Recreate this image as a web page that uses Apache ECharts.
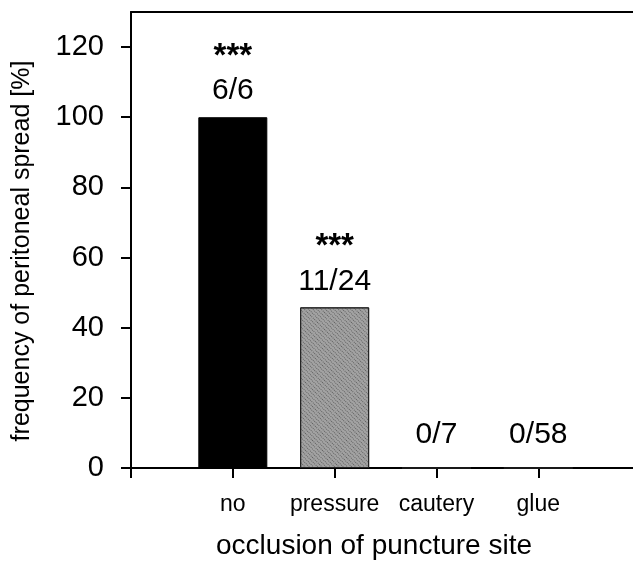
<!DOCTYPE html>
<html>
<head>
<meta charset="utf-8">
<script src="https://cdn.jsdelivr.net/npm/echarts@6/dist/echarts.min.js"></script>
<style>
html,body{margin:0;padding:0;background:#fff;}
#chart{width:633px;height:566px;}
</style>
</head>
<body>
<div id="chart"></div>
<script>
const categories = ['no', 'pressure', 'cautery', 'glue'];
const spreadPct = [100, 45.8, 0, 0];
const counts = ['6/6', '11/24', '0/7', '0/58'];
const significance = ['***', '***', '', ''];
const yTicks = [0, 20, 40, 60, 80, 100, 120];
const xTicks = [0, 1, 2, 3, 4];

const FONT = "'Liberation Sans', Arial, sans-serif";

const chart = echarts.init(document.getElementById('chart'), null, {renderer: 'canvas'});

const barData = categories.map((c, i) => {
  const itemStyle = {
    color: i === 0 ? '#000000' : '#a2a2a2',
    borderColor: i === 0 ? '#000000' : '#222222',
    borderWidth: 1
  };
  if (i === 1) {
    itemStyle.decal = {
      symbol: 'rect',
      symbolSize: 1,
      color: 'rgba(40,40,40,0.55)',
      dashArrayX: [1, 1],
      dashArrayY: [1, 2],
      rotation: Math.PI / 4
    };
  }
  return {
    value: [i + 1, spreadPct[i]],
    itemStyle: itemStyle,
    label: {distance: significance[i] ? 10 : 17}
  };
});

const option = {
  animation: false,
  backgroundColor: '#ffffff',
  grid: {left: 131, right: 0, top: 12, bottom: 98},
  xAxis: [{
    type: 'value',
    min: 0,
    max: 4.93,
    interval: 1,
    position: 'bottom',
    splitLine: {show: false},
    axisLine: {show: true, onZero: false, lineStyle: {color: '#000', width: 2}},
    axisTick: {show: true, length: 10, lineStyle: {color: '#000', width: 2}, customValues: xTicks},
    axisLabel: {
      customValues: xTicks.slice(1),
      formatter: v => categories[Math.round(v) - 1] || '',
      color: '#000', fontFamily: FONT, fontSize: 23, margin: 25
    },
    name: 'occlusion of puncture site',
    nameLocation: 'middle',
    nameGap: 64,
    nameTextStyle: {color: '#000', fontFamily: FONT, fontSize: 28, padding: [0, 16, 0, 0]}
  }, {
    type: 'value',
    min: 0,
    max: 4.93,
    position: 'top',
    splitLine: {show: false},
    axisLine: {show: true, onZero: false, lineStyle: {color: '#000', width: 2}},
    axisTick: {show: false},
    axisLabel: {show: false}
  }],
  yAxis: {
    type: 'value',
    min: 0,
    max: 130,
    interval: 20,
    splitLine: {show: false},
    axisLine: {show: true, lineStyle: {color: '#000', width: 2}},
    axisTick: {show: true, length: 10, lineStyle: {color: '#000', width: 2}, customValues: yTicks},
    axisLabel: {
      customValues: yTicks,
      color: '#000', fontFamily: FONT, fontSize: 29, margin: 27
    },
    name: 'frequency of peritoneal spread [%]',
    nameLocation: 'middle',
    nameGap: 96,
    nameRotate: 90,
    nameTextStyle: {color: '#000', fontFamily: FONT, fontSize: 25, padding: [0, 22, 0, 0]}
  },
  series: [{
    type: 'bar',
    xAxisIndex: 0,
    barWidth: 69,
    data: barData,
    label: {
      show: true,
      position: 'top',
      formatter: p => {
        const i = p.dataIndex;
        return significance[i]
          ? '{s|' + significance[i] + '}\n{f|' + counts[i] + '}'
          : '{f|' + counts[i] + '}';
      },
      rich: {
        s: {fontFamily: FONT, fontSize: 33, fontWeight: 'bold', color: '#000', lineHeight: 36, align: 'center'},
        f: {fontFamily: FONT, fontSize: 30, color: '#000', lineHeight: 32, align: 'center'}
      }
    }
  }]
};

chart.setOption(option);
</script>
</body>
</html>
